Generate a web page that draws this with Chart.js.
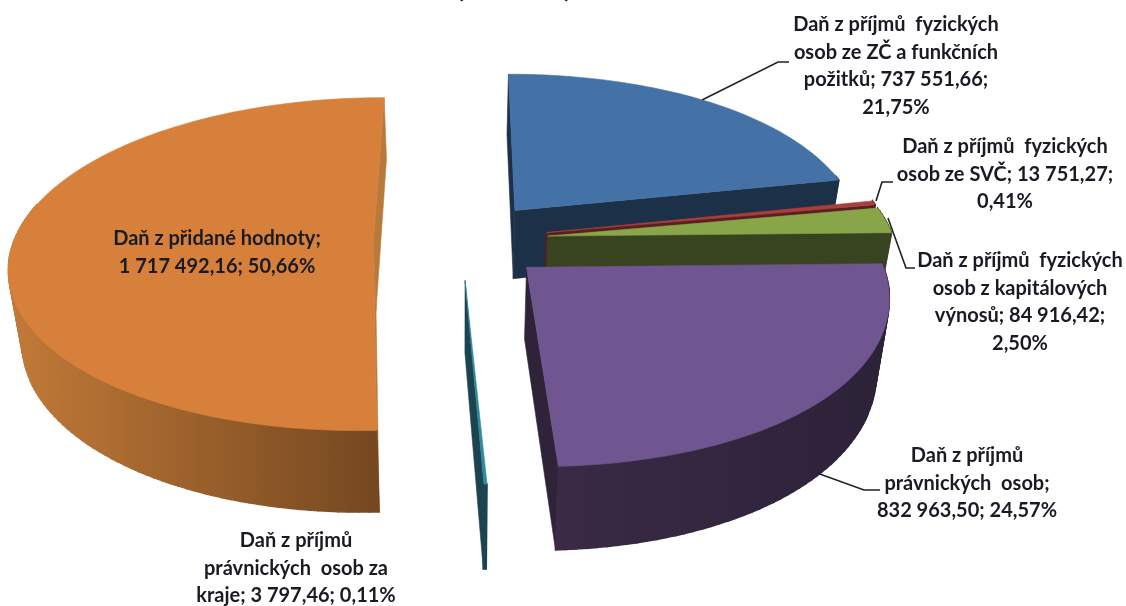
<!DOCTYPE html>
<html>
<head>
  <meta charset="utf-8">
  <title>Daňové příjmy</title>
  <script src="https://cdn.jsdelivr.net/npm/chart.js"></script>
  <style>
    html, body { margin: 0; background: #fff; }
    canvas { display: block; filter: blur(0.4px); }
  </style>
</head>
<body>
  <canvas id="pie" width="1126" height="606"></canvas>
  <script>
    // values, clockwise from 12 o'clock
    const categories = [
      'Daň z příjmů fyzických osob ze ZČ a funkčních požitků',
      'Daň z příjmů fyzických osob ze SVČ',
      'Daň z příjmů fyzických osob z kapitálových výnosů',
      'Daň z příjmů právnických osob',
      'Daň z příjmů právnických osob za kraje',
      'Daň z přidané hodnoty'
    ];
    const values = [737551.66, 13751.27, 84916.42, 832963.50, 3797.46, 1717492.16];

    const labelLines = [
      ['Daň z příjmů  fyzických', 'osob ze ZČ a funkčních', 'požitků; 737 551,66;', '21,75%'],
      ['Daň z příjmů  fyzických', 'osob ze SVČ; 13 751,27;', '0,41%'],
      ['Daň z příjmů  fyzických', 'osob z kapitálových', 'výnosů; 84 916,42;', '2,50%'],
      ['Daň z příjmů', 'právnických  osob;', '832 963,50; 24,57%'],
      ['Daň z příjmů', 'právnických  osob za', 'kraje; 3 797,46; 0,11%'],
      ['Daň z přidané hodnoty;', '1 717 492,16; 50,66%']
    ];
    const labelPos = [[896, 25], [1005, 147], [1020, 261], [967, 456], [296, 541], [217, 239]];
    const leaders = [
      [[702, 100], [778, 62], [789, 62]],
      [[876, 201], [882, 182], [893, 182]],
      [[888, 218], [906, 268], [915, 268]],
      [[817, 473], [864, 490], [880, 490]]
    ];

    const topColors = ['#4472a6', '#a83f3c', '#88a54a', '#6f5690', '#2f8a9c', '#d6803c'];
    const wallLeft = ['#1c3048', '#5a1f1e', '#38431f', '#3a2a45', '#1c4350', '#c27a38'];
    const wallRight = ['#1c3048', '#5a1f1e', '#38431f', '#2c2238', '#1c4350', '#754820'];
    const cutColors = ['#1c3048', '#5a1f1e', '#38431f', '#2e2339', '#1c4350', '#b87a38'];

    // 3D look: the library gives the angles, this maps them on the tilted disk
    const cx = 461, cy = 240, rx = 365, ry = 163;
    const persp = 0.14, explode = 0.24, depth = 70, zShrink = 0.97;

    function project(u, v, z) {
      const w = 1 / (1 - persp * v);
      const squeeze = 1 - (u > 0 ? 0.027 : 0.0085) * u * u;
      let x = rx * u * squeeze * w;
      let y = ry * v * w;
      if (z) {
        x *= zShrink;
        y += depth * w;
      }
      return [cx + x, cy + y];
    }

    function fillPoly(ctx, pts, style, lineWidth) {
      ctx.beginPath();
      pts.forEach((p, i) => i ? ctx.lineTo(p[0], p[1]) : ctx.moveTo(p[0], p[1]));
      ctx.closePath();
      ctx.fillStyle = style;
      ctx.strokeStyle = style;
      ctx.lineWidth = lineWidth || 0.6;
      ctx.fill();
      ctx.stroke();
    }

    function polyArea(pts) {
      let s = 0;
      pts.forEach((p, i) => {
        const q = pts[(i + 1) % pts.length];
        s += p[0] * q[1] - q[0] * p[1];
      });
      return s;
    }

    function drawSlice(ctx, arc, i) {
      const mid = (arc.startAngle + arc.endAngle) / 2;
      const ou = Math.cos(mid) * explode;
      const ov = Math.sin(mid) * explode;
      const steps = Math.max(2, Math.ceil((arc.endAngle - arc.startAngle) * 40));
      const rim = [];
      const frontRim = [];
      for (let s = 0; s <= steps; s++) {
        const a = arc.startAngle + (arc.endAngle - arc.startAngle) * s / steps;
        const p = [ou + Math.cos(a), ov + Math.sin(a)];
        rim.push(p);
        if (Math.sin(a) > -0.25) frontRim.push(p);
      }
      const first = rim[0], last = rim[rim.length - 1];

      // cut faces, only the ones turned to the viewer
      const faceOf = e => [project(ou, ov, 0), project(e[0], e[1], 0),
        project(e[0], e[1], 1), project(ou, ov, 1)];
      const firstFace = faceOf(first), lastFace = faceOf(last);
      if (polyArea(firstFace) < -500) fillPoly(ctx, firstFace, cutColors[i]);
      if (polyArea(lastFace) > 500) fillPoly(ctx, lastFace, cutColors[i]);

      // outer wall, piece by piece because the strip folds over at the sides
      if (frontRim.length > 1) {
        const xs = frontRim.map(p => project(p[0], p[1], 0)[0]);
        const grad = ctx.createLinearGradient(Math.min(...xs), 0, Math.max(...xs), 0);
        grad.addColorStop(0, wallLeft[i]);
        grad.addColorStop(1, wallRight[i]);
        for (let s = 0; s < frontRim.length - 1; s++) {
          const a = frontRim[s], b = frontRim[s + 1];
          fillPoly(ctx, [project(a[0], a[1], 0), project(b[0], b[1], 0),
            project(b[0], b[1], 1), project(a[0], a[1], 1)], grad, 1.5);
        }
      }

      // top surface
      fillPoly(ctx, [project(ou, ov, 0)].concat(rim.map(p => project(p[0], p[1], 0))), topColors[i]);
    }

    const tiltedPie = {
      id: 'tiltedPie',
      beforeDatasetDraw(chart) {
        const ctx = chart.ctx;
        ctx.save();
        chart.getDatasetMeta(0).data.forEach((arc, i) => drawSlice(ctx, arc, i));
        ctx.restore();
        return false;
      },
      afterDraw(chart) {
        const ctx = chart.ctx;
        ctx.save();

        // title is cut by the top edge in the original, only the brackets show
        ctx.fillStyle = '#111';
        ctx.font = 'bold 29px Lato';
        ctx.textAlign = 'center';
        ctx.fillText('(v tis. Kč)', 514, -3);

        ctx.strokeStyle = '#222';
        ctx.lineWidth = 1.6;
        leaders.forEach(l => {
          ctx.beginPath();
          l.forEach((p, i) => i ? ctx.lineTo(p[0], p[1]) : ctx.moveTo(p[0], p[1]));
          ctx.stroke();
        });

        ctx.fillStyle = '#1a1a24';
        ctx.font = 'bold 20px Lato';
        ctx.textBaseline = 'middle';
        labelLines.forEach((lines, i) => {
          lines.forEach((t, n) => {
            ctx.fillText(t, labelPos[i][0], labelPos[i][1] + n * 27.5);
          });
        });
        ctx.restore();
      }
    };

    new Chart(document.getElementById('pie').getContext('2d'), {
      type: 'pie',
      data: {
        labels: categories,
        datasets: [{ data: values, backgroundColor: topColors }]
      },
      options: {
        responsive: false,
        animation: false,
        plugins: {
          legend: { display: false },
          tooltip: { enabled: false }
        }
      },
      plugins: [tiltedPie]
    });
  </script>
</body>
</html>
